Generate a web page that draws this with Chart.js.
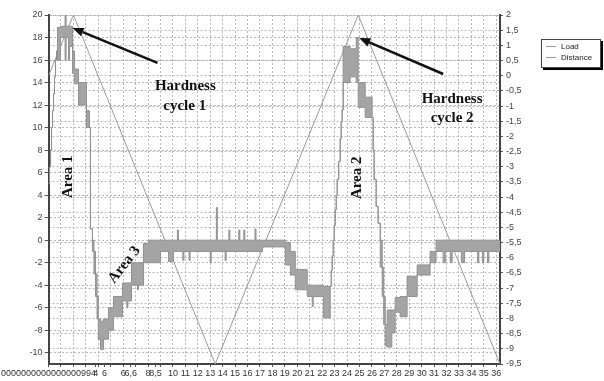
<!DOCTYPE html>
<html>
<head>
<meta charset="utf-8">
<script src="https://cdn.jsdelivr.net/npm/chart.js@4.4.1/dist/chart.umd.min.js"></script>
<style>
html, body { margin: 0; padding: 0; background: #fff; }
#wrap { position: relative; width: 604px; height: 381px; }
#legend {
    position: absolute; left: 541px; top: 39px; width: 58px; height: 26px;
    border: 1px solid #444; background: #fff; box-shadow: 2px 2px 0 #000;
    font: 8px "Liberation Sans", Arial, sans-serif; color: #222; padding-top: 1px;
}
.item { display: flex; align-items: center; height: 11px; margin-left: 4px; }
.item i { display: inline-block; width: 10px; height: 0; border-top: 1px solid #9a9a9a; margin-right: 5px; }
</style>
</head>
<body>
<div id="wrap">
    <canvas id="myChart" width="604" height="381"></canvas>
    <div id="legend"></div>
</div>
<script>
// Load (left axis), noisy signal kept as upper / lower envelope, stepped
const loadX = [0.00, 0.08, 0.16, 0.24, 0.32, 0.40, 0.48, 0.56, 0.64, 0.72, 0.96, 1.33, 1.41, 1.61, 1.69, 1.93, 2.09, 2.41, 3.05, 3.29,
    3.37, 3.53, 3.65, 3.78, 3.90, 4.00, 4.18, 4.42, 4.82, 5.22, 5.94, 6.30, 6.38, 6.67, 7.15, 7.23, 7.63, 8.03, 9.00, 9.64,
    10.04, 10.36, 10.44, 10.80, 10.88, 11.30, 11.38, 13.00, 13.08, 13.49, 13.57, 14.20, 14.28, 14.50, 14.58, 15.30, 15.38, 15.70, 15.78, 16.60,
    16.68, 17.20, 19.04, 19.44, 19.84, 20.80, 21.20, 21.28, 22.10, 22.65, 22.73, 22.81, 22.89, 22.97, 23.05, 23.13, 23.21, 23.33, 23.45, 23.53,
    23.61, 23.69, 24.25, 24.74, 24.90, 25.46, 26.02, 26.10, 26.18, 26.34, 26.50, 26.67, 26.83, 26.95, 27.07, 27.23, 27.60, 27.87, 28.27, 28.83,
    29.64, 30.68, 31.16, 31.73, 31.90, 32.30, 32.45, 33.20, 33.45, 34.50, 34.60, 34.90, 35.00, 35.30, 35.40, 36.30];
const loadHigh = [5.0, 6.5, 8.0, 10.0, 11.5, 13.0, 14.5, 16.0, 16.8, 18.9, 19.0, 20.0, 19.0, 19.0, 19.0, 16.8, 15.2, 14.0, 11.5, 10.0,
    1.0, 0.0, -1.0, -3.0, -5.0, -7.0, -7.2, -7.0, -6.0, -5.0, -3.8, -3.8, -3.8, -2.0, -2.0, -2.0, -0.3, 0.0, 0.0, 0.0,
    0.0, 0.9, 0.0, 0.0, 0.0, 0.0, 0.0, 0.0, 0.0, 2.9, 0.0, 0.0, 0.0, 0.9, 0.0, 0.9, 0.0, 0.9, 0.0, 1.0,
    0.0, 0.0, -0.2, -1.0, -2.6, -4.0, -4.0, -4.0, -4.1, -4.1, -2.7, -1.4, 0.0, 1.3, 2.7, 4.0, 5.4, 7.0, 9.0, 10.5,
    11.6, 17.2, 17.0, 18.0, 14.0, 12.7, 10.9, 8.0, 5.4, 3.0, 1.5, 0.0, -2.4, -5.0, -7.5, -6.2, -6.2, -5.1, -5.0, -3.2,
    -2.2, -1.0, 0.0, 0.0, 0.0, 0.0, 0.0, 0.0, 0.0, 0.0, 0.0, 0.0, 0.0, 0.0, 0.0, 0.0];
const loadLow = [5.0, 6.5, 8.0, 10.0, 11.5, 13.0, 14.5, 16.0, 16.8, 16.0, 18.0, 16.0, 18.0, 16.0, 17.2, 14.8, 13.9, 12.0, 10.0, 10.0,
    1.0, -1.0, -3.0, -5.0, -7.0, -8.8, -9.7, -8.8, -8.0, -6.8, -5.4, -6.0, -5.4, -4.0, -4.4, -4.0, -2.0, -2.0, -1.0, -1.9,
    -1.0, -1.0, -1.0, -1.8, -1.0, -1.8, -1.0, -2.0, -1.0, -1.0, -1.0, -1.8, -1.0, -1.0, -1.0, -1.0, -1.0, -1.0, -1.0, -1.0,
    -1.0, -0.6, -2.2, -3.1, -4.4, -5.0, -5.9, -5.0, -6.9, -4.1, -2.7, -1.4, 0.0, 1.3, 2.7, 4.0, 5.4, 7.0, 9.0, 10.5,
    11.6, 14.0, 14.5, 14.0, 11.8, 10.9, 10.9, 8.0, 5.4, 3.0, 1.5, -2.4, -5.0, -7.5, -9.4, -9.5, -8.2, -6.4, -6.8, -5.0,
    -3.1, -2.0, -1.0, -2.0, -1.0, -2.0, -1.0, -2.0, -1.0, -2.0, -1.0, -2.0, -1.0, -2.0, -1.0, -1.0];

// Distance (right axis)
const distX = [0, 2.0, 13.4, 24.9, 36.3];
const distY = [0, 2, -9.5, 2, -9.5];

// axis ticks
const xLabelValues = [0, 3.8, 4.5, 6, 6.6, 8, 8.6, 10, 11, 12, 13, 14, 15, 16, 17, 18, 19, 20, 21, 22, 23,
    24, 25, 26, 27, 28, 29, 30, 31, 32, 33, 34, 35, 36];
const xLabels = ['0000000000000000994', '4', '6', '6', '6,6', '8', '8,5', '10', '11', '12', '13', '14', '15', '16', '17', '18', '19', '20', '21', '22', '23',
    '24', '25', '26', '27', '28', '29', '30', '31', '32', '33', '34', '35', '36'];
const loadTicks = [-10, -8, -6, -4, -2, 0, 2, 4, 6, 8, 10, 12, 14, 16, 18, 20];

// annotations (x in time units, y in Load units)
const noteTexts = ['Hardness', 'cycle 1', 'Hardness', 'cycle 2', 'Area 1', 'Area 2', 'Area 3'];
const noteX = [11.0, 10.95, 32.45, 32.45, 1.61, 24.82, 6.1];
const noteY = [13.7, 11.9, 12.55, 10.8, 5.63, 5.54, -2.18];
const noteAngle = [0, 0, 0, 0, -90, -90, -52];
const arrowFromX = [8.76, 31.73];
const arrowFromY = [15.74, 14.76];
const arrowToX = [1.93, 24.98];
const arrowToY = [18.85, 17.96];

const FONT = '"Liberation Sans", Arial, sans-serif';
const gridCol = '#b8b8b8';

const notesPlugin = {
    id: 'notes',
    afterDatasetsDraw(chart) {
        const {ctx, scales: {x, y}} = chart;
        ctx.save();
        ctx.strokeStyle = '#111';
        ctx.fillStyle = '#111';
        for (let i = 0; i < arrowFromX.length; i++) {
            const x0 = x.getPixelForValue(arrowFromX[i]), y0 = y.getPixelForValue(arrowFromY[i]);
            const x1 = x.getPixelForValue(arrowToX[i]), y1 = y.getPixelForValue(arrowToY[i]);
            const a = Math.atan2(y1 - y0, x1 - x0);
            const hl = 11, hw = 4.5;
            const bx = x1 - hl * Math.cos(a), by = y1 - hl * Math.sin(a);
            ctx.lineWidth = 2.5;
            ctx.beginPath();
            ctx.moveTo(x0, y0);
            ctx.lineTo(bx, by);
            ctx.stroke();
            ctx.beginPath();
            ctx.moveTo(x1, y1);
            ctx.lineTo(bx + hw * Math.sin(a), by - hw * Math.cos(a));
            ctx.lineTo(bx - hw * Math.sin(a), by + hw * Math.cos(a));
            ctx.closePath();
            ctx.fill();
        }
        ctx.font = 'bold 15px "Liberation Serif", "Times New Roman", serif';
        ctx.textAlign = 'center';
        ctx.textBaseline = 'middle';
        noteTexts.forEach((t, i) => {
            ctx.save();
            ctx.translate(x.getPixelForValue(noteX[i]), y.getPixelForValue(noteY[i]));
            ctx.rotate(noteAngle[i] * Math.PI / 180);
            ctx.fillText(t, 0, 0);
            ctx.restore();
        });
        ctx.restore();
    }
};

const ctx = document.getElementById('myChart').getContext('2d');
const chart = new Chart(ctx, {
    type: 'line',
    data: {
        datasets: [{
            label: 'Load',
            data: loadX.map((v, i) => ({x: v, y: loadHigh[i]})),
            yAxisID: 'y',
            borderColor: '#909090',
            borderWidth: 1,
            stepped: true,
            pointRadius: 0,
            fill: false
        }, {
            label: 'Load low',
            data: loadX.map((v, i) => ({x: v, y: loadLow[i]})),
            yAxisID: 'y',
            borderColor: '#909090',
            backgroundColor: '#a4a4a4',
            borderWidth: 1,
            stepped: true,
            pointRadius: 0,
            fill: '-1'
        }, {
            label: 'Distance',
            data: distX.map((v, i) => ({x: v, y: distY[i]})),
            yAxisID: 'y1',
            borderColor: '#9a9a9a',
            borderWidth: 1,
            pointRadius: 0,
            fill: false
        }]
    },
    options: {
        responsive: false,
        animation: false,
        layout: { padding: { top: 15, left: 0, right: 0, bottom: 0 } },
        plugins: {
            legend: { display: false },
            tooltip: { enabled: false }
        },
        scales: {
            x: {
                type: 'linear',
                min: 0,
                max: 36.3,
                afterBuildTicks: s => {
                    const vals = xLabelValues.slice();
                    for (let i = 1; i <= 36; i++) if (!vals.includes(i)) vals.push(i);
                    vals.sort((a, b) => a - b);
                    s.ticks = vals.map(v => ({value: v}));
                },
                afterFit: s => { s.height = 17; },
                ticks: {
                    autoSkip: false,
                    maxRotation: 0,
                    padding: 1,
                    color: '#333',
                    font: { family: FONT, size: 9 },
                    callback: v => {
                        const i = xLabelValues.indexOf(v);
                        return i >= 0 ? xLabels[i] : '';
                    }
                },
                grid: {
                    color: c => (c.tick && Number.isInteger(c.tick.value) && c.tick.value > 0) ? gridCol : 'rgba(0,0,0,0)',
                    tickColor: '#555',
                    tickLength: 3
                },
                border: { display: true, color: '#444', width: 2, dash: [2, 2] }
            },
            y: {
                position: 'left',
                min: -11,
                max: 20,
                afterBuildTicks: s => { s.ticks = loadTicks.map(v => ({value: v})); },
                afterFit: s => { s.width = 48; },
                ticks: { color: '#444', padding: 2, font: { family: FONT, size: 9 } },
                grid: { color: gridCol, tickColor: '#555', tickLength: 4 },
                border: { display: true, color: '#444', width: 2, dash: [2, 2] }
            },
            y1: {
                position: 'right',
                min: -9.5,
                max: 2,
                ticks: {
                    stepSize: 0.5,
                    color: '#444',
                    padding: 3,
                    font: { family: FONT, size: 9 },
                    callback: v => String(v).replace('.', ',')
                },
                afterFit: s => { s.width = 104; },
                grid: { color: gridCol, tickColor: '#555', tickLength: 3 },
                border: { display: true, color: '#444', width: 2, dash: [2, 2] }
            }
        }
    },
    plugins: [notesPlugin]
});

// legend box
const legendEl = document.getElementById('legend');
[0, 2].forEach(i => {
    const ds = chart.data.datasets[i];
    const row = document.createElement('div');
    row.className = 'item';
    row.innerHTML = '<i></i>' + ds.label;
    legendEl.appendChild(row);
});
</script>
</body>
</html>
